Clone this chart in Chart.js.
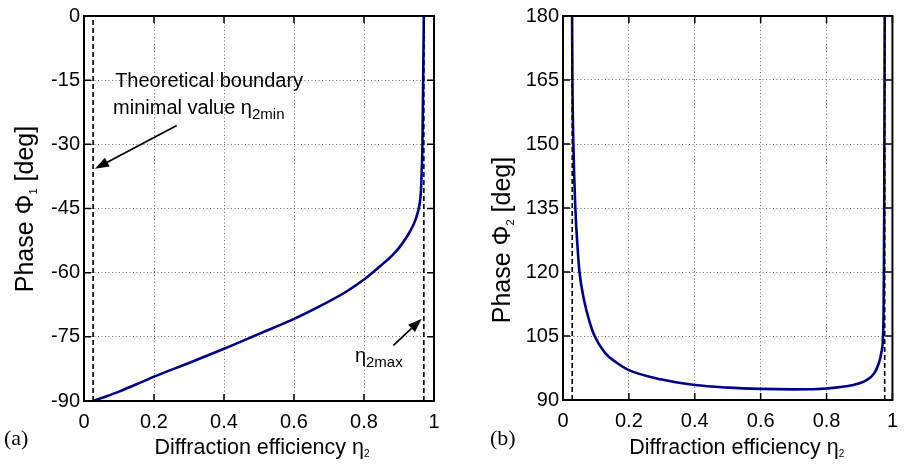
<!DOCTYPE html>
<html>
<head>
<meta charset="utf-8">
<script src="https://cdn.jsdelivr.net/npm/chart.js@4.4.1/dist/chart.umd.min.js"></script>
<style>
html, body { margin: 0; padding: 0; background: #fff; }
#wrap { position: relative; width: 907px; height: 468px; overflow: hidden; }
canvas { position: absolute; top: 0; }
</style>
</head>
<body>
<div id="wrap">
  <canvas id="phase1" width="453" height="468" style="left:0"></canvas>
  <canvas id="phase2" width="454" height="468" style="left:453px"></canvas>
</div>
<script>
// curve (a): phase phi1 vs diffraction efficiency eta2
const eta1 = [0.026, 0.05, 0.1, 0.15, 0.2, 0.3, 0.4, 0.5, 0.6, 0.7, 0.75, 0.8, 0.85, 0.88, 0.9, 0.92, 0.935, 0.946, 0.954, 0.96, 0.963, 0.965, 0.967, 0.969, 0.971];
const phi1 = [-90, -89.3, -87.8, -86.1, -84.3, -81.1, -77.8, -74.3, -70.8, -66.7, -64.4, -61.6, -58.2, -56.0, -54.2, -51.9, -49.8, -47.9, -45.8, -43.3, -40.5, -36, -30, -15, 0];
// curve (b): phase phi2 vs diffraction efficiency eta2
const eta2 = [0.0276, 0.0286, 0.0315, 0.0374, 0.044, 0.05, 0.065, 0.08, 0.096, 0.128, 0.16, 0.2, 0.3, 0.4, 0.5, 0.6, 0.7, 0.8, 0.88, 0.92, 0.945, 0.958, 0.966, 0.9715, 0.973, 0.974, 0.975, 0.9755, 0.976, 0.9765];
const phi2 = [180, 165, 150, 135, 126, 120, 113, 108.5, 105, 101, 98.9, 97, 94.8, 93.5, 92.9, 92.6, 92.5, 92.7, 93.5, 94.6, 96.3, 98.5, 101, 105, 110, 120, 135, 150, 165, 180];
// theoretical boundaries eta2min / eta2max (dashed lines)
const bounds1 = [0.026, 0.971];
const bounds2 = [0.028, 0.9765];
// ticks
const xTicks = [0, 0.2, 0.4, 0.6, 0.8, 1];
const phi1Ticks = [-90, -75, -60, -45, -30, -15, 0];
const phi2Ticks = [90, 105, 120, 135, 150, 165, 180];

const FAMILY = '"Liberation Sans", Arial, Helvetica, sans-serif';
Chart.defaults.font.family = FAMILY;
Chart.defaults.font.size = 20;
Chart.defaults.color = '#000';

function drawRuns(ctx, runs, x, y) {
  runs.forEach(r => {
    ctx.font = r.s + 'px ' + (r.f || FAMILY);
    ctx.fillText(r.t, x, y + (r.dy || 0));
    x += ctx.measureText(r.t).width;
  });
}
function runsWidth(ctx, runs) {
  let w = 0;
  runs.forEach(r => { ctx.font = r.s + 'px ' + (r.f || FAMILY); w += ctx.measureText(r.t).width; });
  return w;
}

const deco = {
  id: 'deco',
  afterDraw(chart, args, o) {
    const { ctx, chartArea: a, scales: { x, y } } = chart;
    ctx.save();
    ctx.strokeStyle = '#000';
    ctx.fillStyle = '#000';
    // inward tick marks on all four sides
    ctx.lineWidth = 1.5;
    ctx.beginPath();
    x.ticks.forEach(t => {
      const px = x.getPixelForValue(t.value);
      ctx.moveTo(px, a.bottom); ctx.lineTo(px, a.bottom - 7);
      ctx.moveTo(px, a.top); ctx.lineTo(px, a.top + 7);
    });
    y.ticks.forEach(t => {
      const py = y.getPixelForValue(t.value);
      ctx.moveTo(a.left, py); ctx.lineTo(a.left + 7, py);
      ctx.moveTo(a.right, py); ctx.lineTo(a.right - 7, py);
    });
    ctx.stroke();
    // frame
    ctx.lineWidth = 2;
    ctx.strokeRect(a.left, a.top, a.width, a.height);

    ctx.textAlign = 'left';
    ctx.textBaseline = 'alphabetic';
    // x title
    const xt = [{ t: 'Diffraction efficiency η', s: 21.5 }, { t: '2', s: 10, dy: 3 }];
    const xw = runsWidth(ctx, xt);
    drawRuns(ctx, xt, (a.left + a.right) / 2 + o.xTitleDX - xw / 2, 454);
    // y title (rotated)
    const yw = runsWidth(ctx, o.yTitle);
    ctx.save();
    ctx.translate(o.yTitleX, o.yTitleY);
    ctx.rotate(-Math.PI / 2);
    drawRuns(ctx, o.yTitle, -yw / 2, 0);
    ctx.restore();
    // panel label
    drawRuns(ctx, [{ t: o.panel, s: 22, f: '"Liberation Serif", "Times New Roman", serif' }], o.panelX, 445);
    // annotations placed in data coordinates
    (o.notes || []).forEach(n => {
      drawRuns(ctx, n.runs, x.getPixelForValue(n.x), y.getPixelForValue(n.y));
    });
    (o.arrows || []).forEach(ar => {
      const x0 = x.getPixelForValue(ar.from[0]), y0 = y.getPixelForValue(ar.from[1]);
      const x1 = x.getPixelForValue(ar.to[0]), y1 = y.getPixelForValue(ar.to[1]);
      const ang = Math.atan2(y1 - y0, x1 - x0);
      const hl = 14, hw = 5;
      ctx.lineWidth = 1.8;
      ctx.beginPath();
      ctx.moveTo(x0, y0);
      ctx.lineTo(x1 - hl * Math.cos(ang), y1 - hl * Math.sin(ang));
      ctx.stroke();
      ctx.beginPath();
      ctx.moveTo(x1, y1);
      ctx.lineTo(x1 - hl * Math.cos(ang) + hw * Math.sin(ang), y1 - hl * Math.sin(ang) - hw * Math.cos(ang));
      ctx.lineTo(x1 - hl * Math.cos(ang) - hw * Math.sin(ang), y1 - hl * Math.sin(ang) + hw * Math.cos(ang));
      ctx.closePath();
      ctx.fill();
    });
    ctx.restore();
  }
};

function boundLine(b, lo, hi) {
  return {
    data: [{ x: b, y: lo }, { x: b, y: hi }],
    showLine: true, borderColor: '#000', borderWidth: 1.6, borderDash: [5, 3],
    pointRadius: 0, fill: false
  };
}

function makeChart(id, eta, phi, bounds, yMin, yMax, yTicks, yWidth, xHeight, padRight, decoOpts) {
  return new Chart(document.getElementById(id), {
    type: 'scatter',
    data: {
      datasets: [
        boundLine(bounds[0], yMin, yMax),
        boundLine(bounds[1], yMin, yMax),
        {
          data: eta.map((v, i) => ({ x: v, y: phi[i] })),
          showLine: true, borderColor: '#00008c', borderWidth: 2.6,
          pointRadius: 0, cubicInterpolationMode: 'monotone', fill: false
        }
      ]
    },
    options: {
      responsive: false,
      animation: false,
      events: [],
      layout: { padding: { left: 0, top: 14, right: padRight, bottom: 0 } },
      plugins: { legend: { display: false }, tooltip: { enabled: false }, deco: decoOpts },
      scales: {
        x: {
          type: 'linear', min: 0, max: 1,
          afterBuildTicks: s => { s.ticks = xTicks.map(v => ({ value: v })); },
          afterFit: s => { s.height = xHeight; },
          ticks: { padding: 9, font: { size: 20 }, color: '#000', callback: v => String(v) },
          grid: { color: '#6a6a6a', lineWidth: 1, drawTicks: false },
          border: { display: false, dash: [1, 2.5] }
        },
        y: {
          type: 'linear', min: yMin, max: yMax,
          afterBuildTicks: s => { s.ticks = yTicks.map(v => ({ value: v })); },
          afterFit: s => { s.width = yWidth; },
          ticks: { padding: 4, font: { size: 20 }, color: '#000', callback: v => String(v) },
          grid: { color: '#6a6a6a', lineWidth: 1, drawTicks: false },
          border: { display: false, dash: [1, 2.5] }
        }
      }
    },
    plugins: [deco]
  });
}

makeChart('phase1', eta1, phi1, bounds1, -90, 0, phi1Ticks, 84, 67, 19, {
  yTitle: [{ t: 'Phase Φ', s: 25 }, { t: '1', s: 11, dy: 4 }, { t: ' [deg]', s: 25 }],
  yTitleX: 33, yTitleY: 209, xTitleDX: 3, panel: '(a)', panelX: 4,
  notes: [
    { x: 0.089, y: -16.5, runs: [{ t: 'Theoretical boundary', s: 20 }] },
    { x: 0.083, y: -22.8, runs: [{ t: 'minimal value η', s: 20 }, { t: '2min', s: 15, dy: 5 }] },
    { x: 0.774, y: -80.9, runs: [{ t: 'η', s: 20 }, { t: '2max', s: 15, dy: 5 }] }
  ],
  arrows: [
    { from: [0.265, -25.6], to: [0.031, -35.7] },
    { from: [0.884, -77.0], to: [0.965, -70.8] }
  ]
});

makeChart('phase2', eta2, phi2, bounds2, 90, 180, phi2Ticks, 110, 68, 6, {
  yTitle: [{ t: 'Phase Φ', s: 25 }, { t: '2', s: 11, dy: 4 }, { t: ' [deg]', s: 25 }],
  yTitleX: 57, yTitleY: 240, xTitleDX: 9, panel: '(b)', panelX: 37
});
</script>
</body>
</html>
